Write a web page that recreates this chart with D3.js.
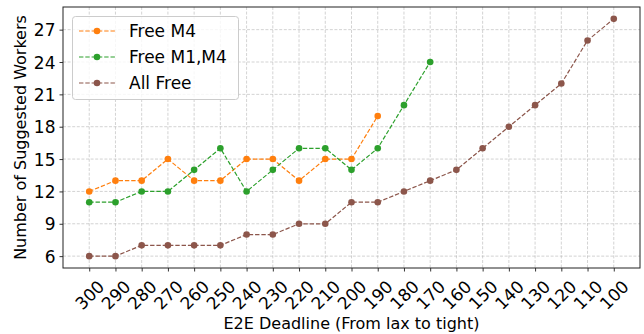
<!DOCTYPE html>
<html><head><meta charset="utf-8">
<script src="https://cdn.jsdelivr.net/npm/d3@7"></script>
<style>body{margin:0;background:#fff}svg{display:block}text{font-family:"DejaVu Sans",sans-serif;fill:#000}</style>
</head><body><svg id="c" width="644" height="334"></svg>
<script>
const categories = [300,290,280,270,260,250,240,230,220,210,200,190,180,170,160,150,140,130,120,110,100];
const freeM4 = [12,13,13,15,13,13,15,15,13,15,15,19];
const freeM1M4 = [11,11,12,12,14,16,12,14,16,16,14,16,20,24];
const allFree = [6,6,7,7,7,7,8,8,9,9,11,11,12,13,14,16,18,20,22,26,28];
const yTicks = [6,9,12,15,18,21,24,27];
const seriesNames = ["Free M4","Free M1,M4","All Free"];
const seriesColors = ["#ff7f0e","#2ca02c","#8c564b"];
const seriesData = [freeM4, freeM1M4, allFree];

const svg = d3.select("#c");
const L=63, R=640, T=7, B=268;
const x = d3.scaleLinear().domain([-1, categories.length]).range([L, R]);
const y = d3.scaleLinear().domain([4.9, 29.1]).range([B, T]);

// grid
const g = svg.append("g");
g.selectAll("line.vx").data(categories).enter().append("line")
  .attr("x1",(d,i)=>x(i)).attr("x2",(d,i)=>x(i)).attr("y1",T).attr("y2",B)
  .attr("stroke","#b0b0b0").attr("stroke-opacity",0.7).attr("stroke-width",0.8).attr("stroke-dasharray","3,1.6");
g.selectAll("line.hy").data(yTicks).enter().append("line")
  .attr("x1",L).attr("x2",R).attr("y1",d=>y(d)).attr("y2",d=>y(d))
  .attr("stroke","#b0b0b0").attr("stroke-opacity",0.7).attr("stroke-width",0.8).attr("stroke-dasharray","3,1.6");

// axes
const xAxis = d3.axisBottom(x).tickValues(d3.range(categories.length)).tickFormat(i=>categories[i]).tickSize(3.5).tickSizeOuter(0);
const xg = svg.append("g").attr("transform",`translate(0,${B})`).call(xAxis);
xg.select(".domain").remove();
xg.selectAll(".tick line").attr("stroke","#000").attr("stroke-width",0.8);
xg.selectAll(".tick text").attr("font-size",17).attr("text-anchor","middle").attr("dy",null).attr("y",null)
  .attr("dominant-baseline","central")
  .attr("transform","translate(0,27) rotate(-45)");

const yAxis = d3.axisLeft(y).tickValues(yTicks).tickSize(3.5).tickPadding(4);
const yg = svg.append("g").attr("transform",`translate(${L},0)`).call(yAxis);
yg.select(".domain").remove();
yg.selectAll(".tick line").attr("stroke","#000").attr("stroke-width",0.8);
yg.selectAll(".tick text").attr("font-size",17).attr("dy","0.36em");

// frame
svg.append("rect").attr("x",L).attr("y",T).attr("width",R-L).attr("height",B-T)
  .attr("fill","none").attr("stroke","#222").attr("stroke-width",1);

// series
const line = d3.line().x((d,i)=>x(i)).y(d=>y(d));
seriesData.forEach((s,k)=>{
  svg.append("path").datum(s).attr("d",line).attr("fill","none")
    .attr("stroke",seriesColors[k]).attr("stroke-width",1.2).attr("stroke-dasharray","4.4,1.9");
  svg.selectAll(null).data(s).enter().append("circle")
    .attr("cx",(d,i)=>x(i)).attr("cy",d=>y(d)).attr("r",3.3).attr("fill",seriesColors[k]);
});

// labels
svg.append("text").attr("x",(L+R)/2).attr("y",329).attr("text-anchor","middle").attr("font-size",16)
  .text("E2E Deadline (From lax to tight)");
svg.append("text").attr("transform",`translate(20,${(T+B)/2}) rotate(-90)`).attr("text-anchor","middle")
  .attr("dominant-baseline","central").attr("font-size",16).text("Number of Suggested Workers");

// legend
const lg = svg.append("g");
lg.append("rect").attr("x",72.5).attr("y",16.5).attr("width",166).attr("height",83).attr("rx",3)
  .attr("fill","#fff").attr("fill-opacity",0.8).attr("stroke","#cccccc").attr("stroke-width",1);
seriesNames.forEach((n,k)=>{
  const cy = 31 + k*26;
  lg.append("line").attr("x1",79).attr("x2",115).attr("y1",cy).attr("y2",cy)
    .attr("stroke",seriesColors[k]).attr("stroke-width",1.2).attr("stroke-dasharray","4.4,1.9");
  lg.append("circle").attr("cx",97).attr("cy",cy).attr("r",3.3).attr("fill",seriesColors[k]);
  lg.append("text").attr("x",129).attr("y",cy).attr("dy","0.36em").attr("font-size",17).text(n);
});
</script></body></html>
